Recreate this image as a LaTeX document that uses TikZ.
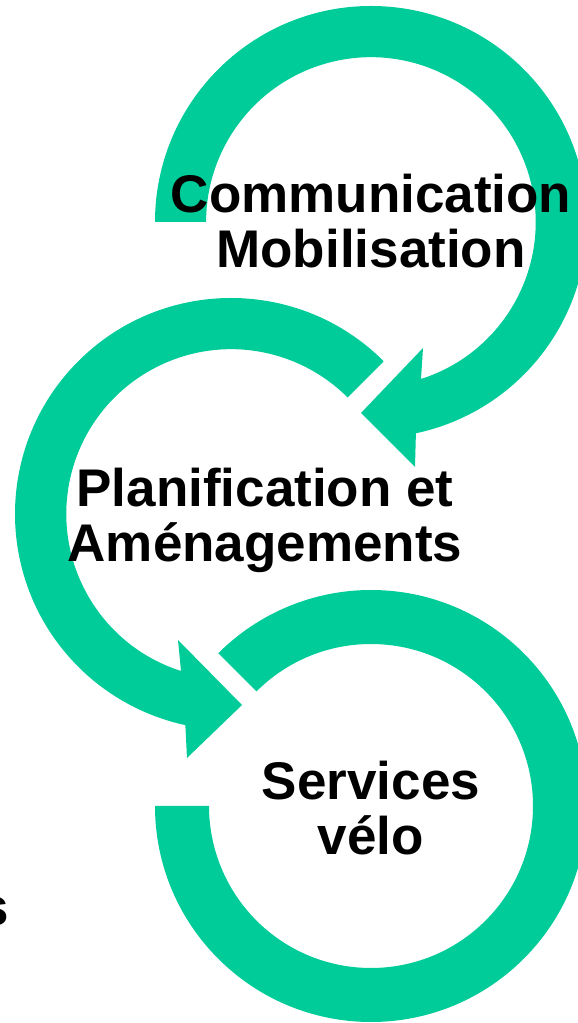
\documentclass[tikz,border=0pt]{standalone}
\usepackage{fontspec}
\setmainfont{Liberation Sans}
\usetikzlibrary{calc}
\definecolor{arrowgreen}{HTML}{00CC99}
\begin{document}
\begin{tikzpicture}[x=1pt,y=1pt,
  ring/.style={fill=arrowgreen},
  label/.style={inner sep=0pt,align=center,font=\fontsize{53}{55.5}\selectfont\bfseries,text=black}]
\useasboundingbox (0,0) rectangle (578,1023);
\clip (0,0) rectangle (578,1023);
% centres
\coordinate (c1) at (371,801);
\coordinate (c2) at (231,509);
\coordinate (c3) at (371,217);
% arrow 1 (top)
\fill[ring] ($(c1)+(180:216)$) arc[start angle=180,end angle=-78,radius=216]
  -- (415,556) -- (361,610) -- (423,675) -- (421,644)
  arc[start angle=-72.3,end angle=180,radius=164.8] -- cycle;
% arrow 2 (middle)
\fill[ring] ($(c2)+(45:216)$) arc[start angle=45,end angle=257.8,radius=216]
  -- (187,265) -- (242,318) -- (178,383) -- (181,352)
  arc[start angle=252.3,end angle=45,radius=164.8] -- cycle;
% arc 3 (bottom)
\fill[ring] ($(c3)+(180:216)$) arc[start angle=180,end angle=495,radius=216]
  -- ($(c3)+(135:162)$) arc[start angle=495,end angle=180,radius=162] -- cycle;
% labels (anchor = baseline of last line)
\node[label,anchor=base] (t1) at (371,755) {Communication\\Mobilisation};
\node[label,anchor=base] (t2) at (265,461) {Planification et\\Aménagements};
\node[label,anchor=base] (t3) at (371,168) {Services\\vélo};
\node[label,anchor=base east] (t4) at (9,97) {s};
\end{tikzpicture}
\end{document}
